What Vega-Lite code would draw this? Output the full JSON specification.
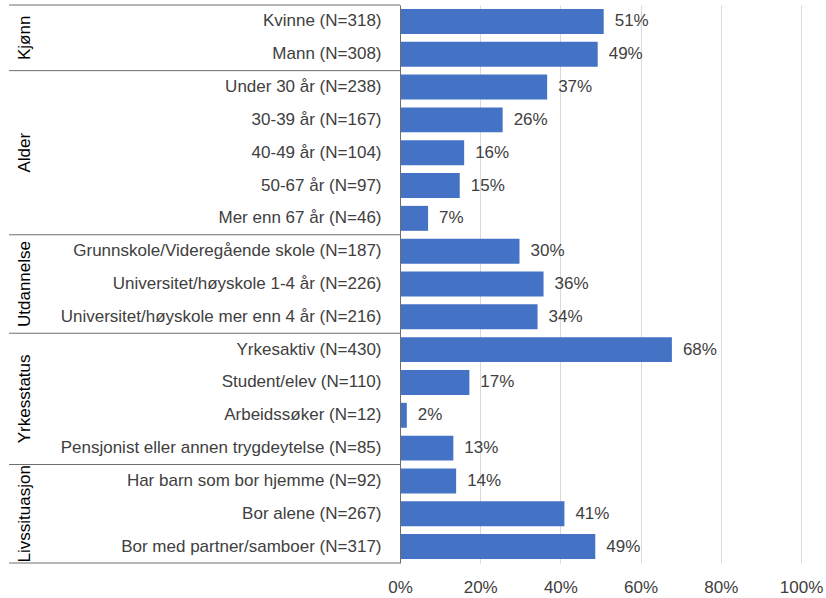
{
  "$schema": "https://vega.github.io/schema/vega-lite/v6.json",
  "autosize": "none",
  "width": 401,
  "height": 558,
  "padding": {"left": 400, "top": 5, "right": 24, "bottom": 35},
  "background": "white",
  "config": {
    "view": {"stroke": null},
    "font": "Liberation Sans",
    "text": {"font": "Liberation Sans"}
  },
  "datasets": {
    "rows": [
      {"group": "Kjønn", "label": "Kvinne (N=318)", "value": 0.508},
      {"group": "Kjønn", "label": "Mann (N=308)", "value": 0.493},
      {"group": "Alder", "label": "Under 30 år (N=238)", "value": 0.367},
      {"group": "Alder", "label": "30-39 år (N=167)", "value": 0.256},
      {"group": "Alder", "label": "40-49 år (N=104)", "value": 0.16},
      {"group": "Alder", "label": "50-67 år (N=97)", "value": 0.149},
      {"group": "Alder", "label": "Mer enn 67 år (N=46)", "value": 0.07},
      {"group": "Utdannelse", "label": "Grunnskole/Videregående skole (N=187)", "value": 0.298},
      {"group": "Utdannelse", "label": "Universitet/høyskole 1-4 år (N=226)", "value": 0.358},
      {"group": "Utdannelse", "label": "Universitet/høyskole mer enn 4 år (N=216)", "value": 0.343},
      {"group": "Yrkesstatus", "label": "Yrkesaktiv (N=430)", "value": 0.678},
      {"group": "Yrkesstatus", "label": "Student/elev (N=110)", "value": 0.173},
      {"group": "Yrkesstatus", "label": "Arbeidssøker (N=12)", "value": 0.017},
      {"group": "Yrkesstatus", "label": "Pensjonist eller annen trygdeytelse (N=85)", "value": 0.133},
      {"group": "Livssituasjon", "label": "Har barn som bor hjemme (N=92)", "value": 0.14},
      {"group": "Livssituasjon", "label": "Bor alene (N=267)", "value": 0.41},
      {"group": "Livssituasjon", "label": "Bor med partner/samboer (N=317)", "value": 0.487}
    ],
    "groups": [
      {"group": "Kjønn", "top": "Kvinne (N=318)", "mid": "Mann (N=308)", "midpos": "edge"},
      {"group": "Alder", "top": "Under 30 år (N=238)", "mid": "40-49 år (N=104)", "midpos": "center"},
      {"group": "Utdannelse", "top": "Grunnskole/Videregående skole (N=187)", "mid": "Universitet/høyskole 1-4 år (N=226)", "midpos": "center"},
      {"group": "Yrkesstatus", "top": "Yrkesaktiv (N=430)", "mid": "Arbeidssøker (N=12)", "midpos": "edge"},
      {"group": "Livssituasjon", "top": "Har barn som bor hjemme (N=92)", "mid": "Bor alene (N=267)", "midpos": "center"}
    ],
    "last": [
      {"label": "Bor med partner/samboer (N=317)"}
    ]
  },
  "layer": [
    {
      "data": {"name": "rows"},
      "mark": {"type": "bar", "color": "#4472C4", "height": {"band": 0.76}},
      "encoding": {
        "y": {
          "field": "label", "type": "nominal", "title": null,
          "scale": {
            "domain": [
              "Kvinne (N=318)", "Mann (N=308)", "Under 30 år (N=238)", "30-39 år (N=167)", "40-49 år (N=104)", "50-67 år (N=97)", "Mer enn 67 år (N=46)",
              "Grunnskole/Videregående skole (N=187)", "Universitet/høyskole 1-4 år (N=226)", "Universitet/høyskole mer enn 4 år (N=216)",
              "Yrkesaktiv (N=430)", "Student/elev (N=110)", "Arbeidssøker (N=12)", "Pensjonist eller annen trygdeytelse (N=85)",
              "Har barn som bor hjemme (N=92)", "Bor alene (N=267)", "Bor med partner/samboer (N=317)"
            ],
            "paddingInner": 0, "paddingOuter": 0
          },
          "axis": {
            "domain": true, "domainColor": "#6e6e6e", "domainWidth": 1,
            "ticks": false, "grid": false,
            "labelFont": "Liberation Sans", "labelFontSize": 17, "labelColor": "#404040",
            "labelPadding": 19, "labelLimit": 420, "zindex": 1
          }
        },
        "x": {
          "field": "value", "type": "quantitative", "title": null,
          "scale": {"domain": [0, 1], "nice": false},
          "axis": {
            "format": ".0%", "values": [0, 0.2, 0.4, 0.6, 0.8, 1],
            "grid": true, "gridColor": "#d9d9d9", "gridWidth": 1,
            "domain": false, "ticks": false,
            "labelFont": "Liberation Sans", "labelFontSize": 17, "labelColor": "#404040",
            "labelPadding": 16, "labelFlush": false
          }
        }
      }
    },
    {
      "data": {"name": "rows"},
      "mark": {"type": "text", "align": "left", "baseline": "middle", "dx": 11, "fontSize": 17, "color": "#404040"},
      "encoding": {
        "y": {"field": "label", "type": "nominal"},
        "x": {"field": "value", "type": "quantitative"},
        "text": {"field": "value", "type": "quantitative", "format": ".0%"}
      }
    },
    {
      "data": {"name": "groups"},
      "mark": {"type": "rule", "color": "#6e6e6e", "strokeWidth": 1},
      "encoding": {
        "y": {"field": "top", "type": "nominal", "bandPosition": 0},
        "x": {"datum": -0.975},
        "x2": {"datum": 0}
      }
    },
    {
      "data": {"name": "last"},
      "mark": {"type": "rule", "color": "#6e6e6e", "strokeWidth": 1},
      "encoding": {
        "y": {"field": "label", "type": "nominal", "bandPosition": 1},
        "x": {"datum": -0.975},
        "x2": {"datum": 0}
      }
    },
    {
      "data": {"name": "groups"},
      "transform": [{"filter": "datum.midpos === 'center'"}],
      "mark": {"type": "text", "angle": 270, "align": "center", "baseline": "middle", "fontSize": 17, "color": "#000000"},
      "encoding": {
        "y": {"field": "mid", "type": "nominal", "bandPosition": 0.5},
        "x": {"datum": -0.935},
        "text": {"field": "group"}
      }
    },
    {
      "data": {"name": "groups"},
      "transform": [{"filter": "datum.midpos === 'edge'"}],
      "mark": {"type": "text", "angle": 270, "align": "center", "baseline": "middle", "fontSize": 17, "color": "#000000"},
      "encoding": {
        "y": {"field": "mid", "type": "nominal", "bandPosition": 0},
        "x": {"datum": -0.935},
        "text": {"field": "group"}
      }
    }
  ]
}
